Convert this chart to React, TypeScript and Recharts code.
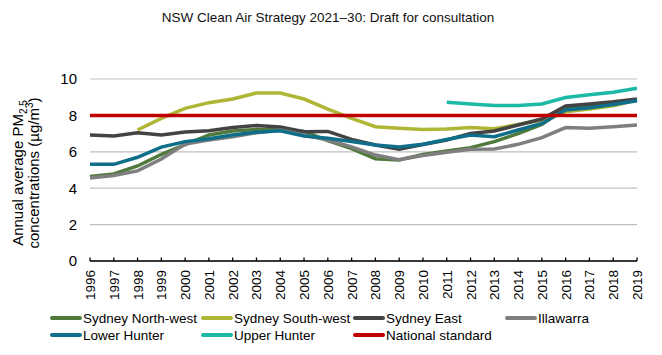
import { LineChart, Line, XAxis, YAxis, CartesianGrid } from "recharts";

const FONT = '"Liberation Sans", Arial, sans-serif';

const years = [
  "1996", "1997", "1998", "1999", "2000", "2001", "2002", "2003",
  "2004", "2005", "2006", "2007", "2008", "2009", "2010", "2011",
  "2012", "2013", "2014", "2015", "2016", "2017", "2018", "2019",
];

const sydneyNorthWest = [
  4.65, 4.78, 5.22, 5.86, 6.4, 6.92, 7.14, 7.23, 7.22, 7.12, 6.62, 6.17,
  5.62, 5.55, 5.86, 6.04, 6.23, 6.56, 7.0, 7.5, 8.39, 8.53, 8.66, 8.85,
];
const sydneySouthWest = [
  null, null, 7.2, 7.84, 8.39, 8.7, 8.9, 9.23, 9.23, 8.9, 8.35, 7.84,
  7.38, 7.3, 7.22, 7.25, 7.34, 7.27, 7.5, 7.75, 8.2, 8.35, 8.53, 8.85,
];
const sydneyEast = [
  6.92, 6.87, 7.05, 6.92, 7.09, 7.16, 7.33, 7.45, 7.36, 7.1, 7.12, 6.68,
  6.37, 6.14, 6.4, 6.65, 7.01, 7.14, 7.47, 7.8, 8.52, 8.63, 8.75, 8.9,
];
const illawarra = [
  4.56, 4.7, 4.95, 5.6, 6.43, 6.65, 6.83, 7.05, 7.2, 6.92, 6.65, 6.27,
  5.82, 5.57, 5.8, 5.97, 6.14, 6.15, 6.41, 6.78, 7.33, 7.29, 7.38, 7.47,
];
const lowerHunter = [
  5.31, 5.31, 5.7, 6.26, 6.56, 6.72, 6.92, 7.08, 7.15, 6.87, 6.74, 6.56,
  6.37, 6.27, 6.42, 6.68, 6.92, 6.83, 7.2, 7.56, 8.3, 8.42, 8.6, 8.8,
];
const upperHunter = [
  null, null, null, null, null, null, null, null, null, null, null, null,
  null, null, null, 8.72, 8.63, 8.55, 8.55, 8.63, 8.98, 9.14, 9.27, 9.49,
];
const nationalStandard = [
  8, 8, 8, 8, 8, 8, 8, 8, 8, 8, 8, 8,
  8, 8, 8, 8, 8, 8, 8, 8, 8, 8, 8, 8,
];

const yTicks = [0, 2, 4, 6, 8, 10];

const series = [
  { key: "nw", name: "Sydney North-west", color: "#4F7A3B", width: 3.5, values: sydneyNorthWest },
  { key: "sw", name: "Sydney South-west", color: "#AFB535", width: 3.5, values: sydneySouthWest },
  { key: "east", name: "Sydney East", color: "#434343", width: 3.5, values: sydneyEast },
  { key: "ill", name: "Illawarra", color: "#7F7F7F", width: 3.5, values: illawarra },
  { key: "lh", name: "Lower Hunter", color: "#0F6E8A", width: 3.5, values: lowerHunter },
  { key: "uh", name: "Upper Hunter", color: "#1CB9A6", width: 3.5, values: upperHunter },
  { key: "ns", name: "National standard", color: "#C00000", width: 3.5, values: nationalStandard },
];

const data = years.map((year, i) => {
  const row: Record<string, string | number | null> = { year };
  series.forEach((s) => (row[s.key] = s.values[i]));
  return row;
});

// legend grid: 4 columns, 2 rows
const legendCols = [50, 201, 353, 505];
const legendRows = [318, 335];

function YearTick({ x, y, payload }: any) {
  return (
    <g>
      <line x1={x} x2={x} y1={y - 3.5} y2={y} stroke="#000" strokeWidth={1.3} />
      <g transform={`translate(${x + 5},${y + 9}) rotate(-90)`}>
        <text textAnchor="end" fontSize={13.5} fill="#000" fontFamily={FONT}>
          {payload.value}
        </text>
      </g>
    </g>
  );
}

export default function App() {
  return (
    <div
      style={{
        position: "absolute",
        left: 0,
        top: 0,
        width: 662,
        height: 355,
        background: "#fff",
        fontFamily: FONT,
        overflow: "hidden",
      }}
    >
      <div
        style={{
          position: "absolute",
          top: 9,
          left: 0,
          width: 656,
          textAlign: "center",
          fontSize: 13.5,
          color: "#111",
          lineHeight: "18px",
        }}
      >
        NSW Clean Air Strategy 2021–30: Draft for consultation
      </div>

      <LineChart
        width={662}
        height={355}
        data={data}
        margin={{ top: 79, right: 25, left: 60, bottom: 34 }}
      >
        <CartesianGrid horizontal vertical={false} stroke="#BFBFBF" strokeWidth={1.2} />
        <XAxis
          dataKey="year"
          interval={0}
          height={60}
          tickSize={0}
          tickMargin={0}
          tickLine={false}
          axisLine={{ stroke: "#000", strokeWidth: 1.3 }}
          tick={<YearTick />}
        />
        <YAxis
          domain={[0, 10]}
          ticks={yTicks}
          width={30}
          tickSize={0}
          tickMargin={13}
          axisLine={false}
          tickLine={false}
          tick={{ fontSize: 15, fill: "#000", fontFamily: FONT }}
        />
        {series.map((s) => (
          <Line
            key={s.key}
            dataKey={s.key}
            name={s.name}
            type="linear"
            stroke={s.color}
            strokeWidth={s.width}
            dot={false}
            activeDot={false}
            isAnimationActive={false}
          />
        ))}
        <g transform="translate(0,173) rotate(-90)" fontFamily={FONT} fill="#000">
          <text x={0} y={23} textAnchor="middle" fontSize={15}>
            Annual average PM
            <tspan fontSize={10} dy={4}>2.5</tspan>
          </text>
          <text x={0} y={39} textAnchor="middle" fontSize={15}>
            concentrations (µg/m
            <tspan fontSize={10} dy={-6}>3</tspan>
            <tspan dy={6}>)</tspan>
          </text>
        </g>
      </LineChart>

      {series.map((s, i) => {
        const col = i < 4 ? i : i - 4;
        const row = i < 4 ? 0 : 1;
        return (
          <div
            key={s.key}
            style={{
              position: "absolute",
              left: legendCols[col],
              top: legendRows[row] - 9,
              height: 18,
              display: "flex",
              alignItems: "center",
              fontSize: 13.5,
              color: "#000",
              whiteSpace: "nowrap",
            }}
          >
            <span
              style={{
                display: "inline-block",
                width: 32,
                height: 4,
                borderRadius: 2,
                background: s.color,
                marginRight: 1,
              }}
            />
            {s.name}
          </div>
        );
      })}
    </div>
  );
}
